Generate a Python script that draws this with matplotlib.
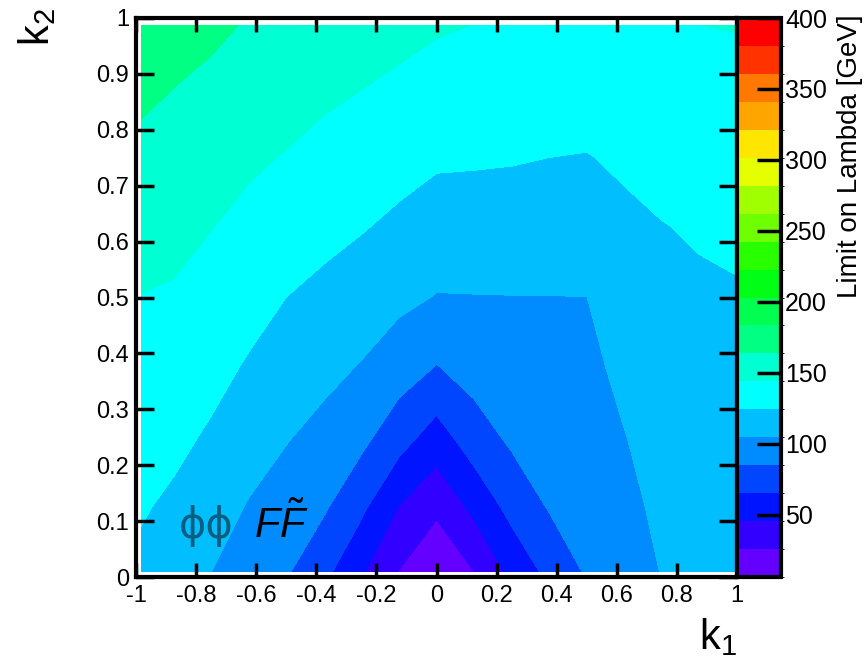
import numpy as np
import matplotlib
matplotlib.use("Agg")
import matplotlib.pyplot as plt
from matplotlib.colors import ListedColormap, BoundaryNorm
from matplotlib.patches import Rectangle
from matplotlib import ticker

plt.rcParams["font.family"] = ["Liberation Sans", "DejaVu Sans"]
plt.rcParams["mathtext.fontset"] = "custom"
plt.rcParams["mathtext.rm"] = "Liberation Sans"
plt.rcParams["mathtext.it"] = "Liberation Sans:italic"
plt.rcParams["axes.unicode_minus"] = False

# scan grid
k1 = [-1, -0.875, -0.75, -0.625, -0.5, -0.375, -0.25, -0.125, 0,
      0.125, 0.25, 0.375, 0.5, 0.625, 0.75, 0.875, 1]
k2 = [0, 0.125, 0.25, 0.375, 0.5, 0.625, 0.75, 0.875, 1]

# limit on Lambda [GeV], one row per k2 value, columns follow k1
lam = [
    [121.0, 112.5, 104.0, 94.9, 85.7, 68.8, 46.4, 23.8, 6.2, 23.8, 48.9, 68.8, 85.8, 95.2, 105.0, 107.4, 110.0],
    [126.7, 121.1, 113.0, 103.4, 95.8, 87.4, 69.2, 45.1, 30.2, 50.3, 71.5, 86.3, 90.5, 99.6, 108.7, 111.0, 113.2],
    [132.4, 128.6, 122.0, 112.9, 105.8, 99.0, 90.1, 73.3, 56.6, 76.0, 88.4, 92.3, 95.1, 104.0, 112.5, 114.6, 116.4],
    [138.1, 135.3, 129.8, 122.5, 115.1, 109.7, 103.5, 94.1, 84.1, 92.4, 96.3, 98.4, 99.8, 109.4, 116.2, 118.2, 119.6],
    [143.9, 142.1, 137.0, 130.9, 124.3, 119.8, 114.6, 108.9, 103.8, 104.1, 104.3, 104.4, 104.5, 115.0, 120.0, 121.7, 122.9],
    [151.9, 149.2, 144.4, 138.9, 133.6, 129.3, 125.4, 120.5, 115.7, 115.4, 115.1, 114.3, 113.9, 120.6, 123.7, 126.0, 127.5],
    [159.9, 156.4, 152.2, 147.0, 142.9, 138.5, 134.9, 130.9, 126.8, 126.3, 125.6, 124.3, 123.6, 126.9, 130.1, 132.2, 133.4],
    [168.0, 163.7, 160.1, 155.1, 152.2, 147.6, 144.3, 140.7, 136.9, 135.6, 134.3, 133.4, 132.8, 134.7, 137.0, 138.4, 139.4],
    [176.0, 170.9, 168.0, 163.2, 161.5, 156.8, 153.8, 150.5, 147.0, 144.8, 143.0, 142.4, 142.0, 142.4, 143.9, 144.6, 145.3],
]

lam_min = 6.2
lam_max = 400.0
n_bands = 20

palette = ["#6400ff", "#3200ff", "#0014ff", "#0046ff", "#008cff",
           "#00beff", "#00ffff", "#00ffd2", "#00ff82", "#00ff50",
           "#00ff14", "#28ff00", "#6eff00", "#a0ff00", "#e6ff00",
           "#ffe600", "#ffa500", "#ff7800", "#ff3200", "#ff0000"]

x_ticks = [-1, -0.8, -0.6, -0.4, -0.2, 0, 0.2, 0.4, 0.6, 0.8, 1]
y_ticks = [0, 0.1, 0.2, 0.3, 0.4, 0.5, 0.6, 0.7, 0.8, 0.9, 1]
z_ticks = [50, 100, 150, 200, 250, 300, 350, 400]


def fmt(v, pos=None):
    return f"{round(v, 1) + 0:g}"


def main():
    W, H = 868, 661
    fig = plt.figure(figsize=(W / 100, H / 100), dpi=100)
    ax = fig.add_axes([136 / W, (H - 577) / H, 601 / W, 559 / H])
    cax = fig.add_axes([737 / W, (H - 577) / H, 44 / W, 559 / H])

    levels = np.linspace(lam_min, lam_max, n_bands + 1)
    cmap = ListedColormap(palette)
    norm = BoundaryNorm(levels, cmap.N)

    cs = ax.contourf(k1, k2, np.array(lam), levels=levels, cmap=cmap, norm=norm)
    # leave the thin white margin inside the frame
    cs.set_clip_path(Rectangle((-0.985, 0.009), 1.985, 0.979,
                               transform=ax.transData))

    ax.set_xlim(-1, 1)
    ax.set_ylim(0, 1)
    ax.set_xticks(x_ticks)
    ax.set_yticks(y_ticks)
    ax.xaxis.set_major_formatter(ticker.FuncFormatter(fmt))
    ax.yaxis.set_major_formatter(ticker.FuncFormatter(fmt))
    ax.tick_params(axis="x", direction="in", top=True, bottom=True,
                   length=10, width=2.5, labelsize=17, pad=6)
    ax.tick_params(axis="y", direction="in", left=True, right=True,
                   length=13, width=2.5, labelsize=17, pad=5)
    for sp in ax.spines.values():
        sp.set_linewidth(3)

    ax.text(-0.857, 0.07, "\u03d5\u03d5", fontsize=30, family="DejaVu Sans",
            color="#0a5c80", va="baseline")
    ax.text(-0.607, 0.07, r"$F\tilde{F}$", fontsize=30, color="black",
            va="baseline")

    cb = fig.colorbar(cs, cax=cax, ticks=z_ticks)
    cb.outline.set_linewidth(3)
    cax.tick_params(direction="in", length=17, width=2.5, labelsize=18, pad=3)
    cax.yaxis.set_major_formatter(ticker.FuncFormatter(fmt))

    fig.text(850 / W, 1 - 14 / H, "Limit on Lambda [GeV]", rotation=90,
             ha="center", va="top", fontsize=20)
    fig.text(37 / W, 1 - 8 / H, r"$\mathrm{k}_{2}$", rotation=90,
             ha="center", va="top", fontsize=30)
    fig.text(737 / W, 1 - 649 / H, r"$\mathrm{k}_{1}$", ha="right",
             va="baseline", fontsize=30)

    fig.savefig("out.png", dpi=100)


if __name__ == "__main__":
    main()
